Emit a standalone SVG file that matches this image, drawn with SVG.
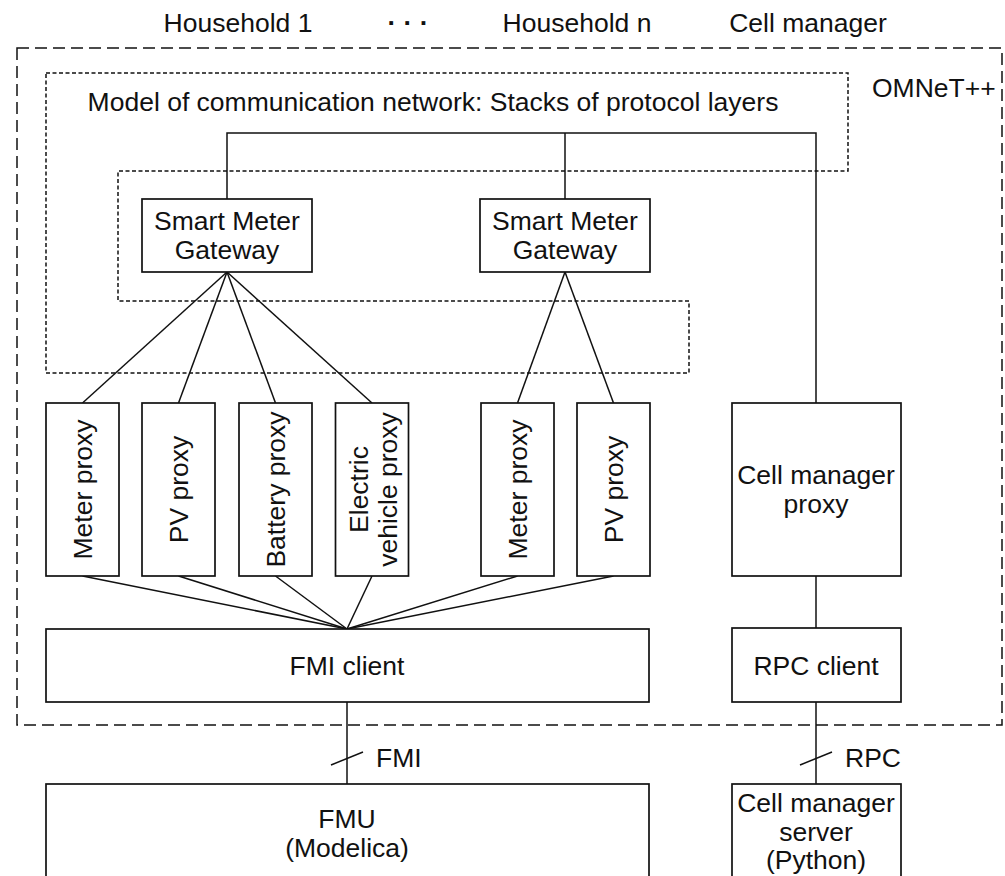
<svg xmlns="http://www.w3.org/2000/svg" width="1005" height="876" viewBox="0 0 1005 876">
  <style>
    .lbl { font-family: "Liberation Sans", Arial, sans-serif; font-size: 26.5px; fill: #111; }
    .mid { text-anchor: middle; }
    .box { fill: #fff; stroke: #111; stroke-width: 1.7; }
    .wire { fill: none; stroke: #111; stroke-width: 1.5; }
    .frame { fill: none; stroke: #111; stroke-width: 1.5; stroke-dasharray: 12 6; }
    .net { fill: none; stroke: #111; stroke-width: 1.5; stroke-dasharray: 4 2.5; }
  </style>

  <!-- column headings -->
  <g id="headings">
    <text class="lbl mid" x="238" y="32">Household 1</text>
    <text class="lbl mid" x="408" y="32" font-weight="bold">· · ·</text>
    <text class="lbl mid" x="577" y="32">Household n</text>
    <text class="lbl mid" x="808" y="32">Cell manager</text>
  </g>

  <!-- simulation boundary -->
  <g id="omnet">
    <rect class="frame" x="17" y="48" width="985" height="677"/>
    <text class="lbl" x="872" y="97">OMNeT++</text>
  </g>

  <!-- communication network region -->
  <g id="network">
    <path class="net" d="M46,73 H848 V171 H118 V301 H689 V373 H46 Z"/>
    <text class="lbl mid" x="433" y="111">Model of communication network: Stacks of protocol layers</text>
  </g>

  <!-- connectors -->
  <g id="connectors">
    <polyline class="wire" points="227,199 227,133 816,133 816,403"/>
    <line class="wire" x1="565" y1="133" x2="565" y2="199"/>

    <line class="wire" x1="227" y1="272" x2="82.5" y2="403"/>
    <line class="wire" x1="227" y1="272" x2="178.5" y2="403"/>
    <line class="wire" x1="227" y1="272" x2="275.5" y2="403"/>
    <line class="wire" x1="227" y1="272" x2="372" y2="403"/>
    <line class="wire" x1="565" y1="272" x2="517.5" y2="403"/>
    <line class="wire" x1="565" y1="272" x2="613.5" y2="403"/>

    <line class="wire" x1="82.5" y1="576" x2="347" y2="629"/>
    <line class="wire" x1="178.5" y1="576" x2="347" y2="629"/>
    <line class="wire" x1="275.5" y1="576" x2="347" y2="629"/>
    <line class="wire" x1="372" y1="576" x2="347" y2="629"/>
    <line class="wire" x1="517.5" y1="576" x2="347" y2="629"/>
    <line class="wire" x1="613.5" y1="576" x2="347" y2="629"/>

    <line class="wire" x1="816" y1="576" x2="816" y2="628"/>
    <line class="wire" x1="347" y1="702" x2="347" y2="784"/>
    <line class="wire" x1="816" y1="702" x2="816" y2="784"/>

    <!-- interface ticks -->
    <line class="wire" x1="331" y1="765" x2="363" y2="752"/>
    <text class="lbl" x="376" y="767">FMI</text>
    <line class="wire" x1="800" y1="765" x2="832" y2="752"/>
    <text class="lbl" x="845" y="767">RPC</text>
  </g>

  <!-- gateways -->
  <g id="smgw1">
    <rect class="box" x="142" y="199" width="170" height="73"/>
    <text class="lbl mid" x="227" y="230">Smart Meter</text>
    <text class="lbl mid" x="227" y="259">Gateway</text>
  </g>
  <g id="smgw2">
    <rect class="box" x="480" y="199" width="170" height="73"/>
    <text class="lbl mid" x="565" y="230">Smart Meter</text>
    <text class="lbl mid" x="565" y="259">Gateway</text>
  </g>

  <!-- household 1 proxies -->
  <g id="meter1">
    <rect class="box" x="46" y="403" width="73" height="173"/>
    <text class="lbl mid" transform="translate(92,489.5) rotate(-90)">Meter proxy</text>
  </g>
  <g id="pv1">
    <rect class="box" x="142" y="403" width="73" height="173"/>
    <text class="lbl mid" transform="translate(188,489.5) rotate(-90)">PV proxy</text>
  </g>
  <g id="battery1">
    <rect class="box" x="239" y="403" width="73" height="173"/>
    <text class="lbl mid" transform="translate(285,489.5) rotate(-90)">Battery proxy</text>
  </g>
  <g id="ev1">
    <rect class="box" x="335.5" y="403" width="73" height="173"/>
    <text class="lbl mid" transform="translate(368,489.5) rotate(-90)"><tspan x="0" y="0">Electric</tspan><tspan x="0" y="29">vehicle proxy</tspan></text>
  </g>

  <!-- household n proxies -->
  <g id="meter2">
    <rect class="box" x="481" y="403" width="73" height="173"/>
    <text class="lbl mid" transform="translate(527,489.5) rotate(-90)">Meter proxy</text>
  </g>
  <g id="pv2">
    <rect class="box" x="577" y="403" width="73" height="173"/>
    <text class="lbl mid" transform="translate(623,489.5) rotate(-90)">PV proxy</text>
  </g>

  <!-- cell manager side -->
  <g id="cm-proxy">
    <rect class="box" x="732" y="403" width="169" height="173"/>
    <text class="lbl mid" x="816" y="484">Cell manager</text>
    <text class="lbl mid" x="816" y="513">proxy</text>
  </g>
  <g id="rpc-client">
    <rect class="box" x="732" y="628" width="169" height="74"/>
    <text class="lbl mid" x="816" y="675">RPC client</text>
  </g>

  <g id="fmi-client">
    <rect class="box" x="46" y="629" width="603" height="73"/>
    <text class="lbl mid" x="347" y="675">FMI client</text>
  </g>

  <!-- external processes -->
  <g id="fmu">
    <rect class="box" x="46" y="784" width="603" height="100"/>
    <text class="lbl mid" x="347" y="828">FMU</text>
    <text class="lbl mid" x="347" y="857">(Modelica)</text>
  </g>
  <g id="cm-server">
    <rect class="box" x="732" y="784" width="169" height="100"/>
    <text class="lbl mid" x="816" y="812">Cell manager</text>
    <text class="lbl mid" x="816" y="841">server</text>
    <text class="lbl mid" x="816" y="869">(Python)</text>
  </g>
</svg>
